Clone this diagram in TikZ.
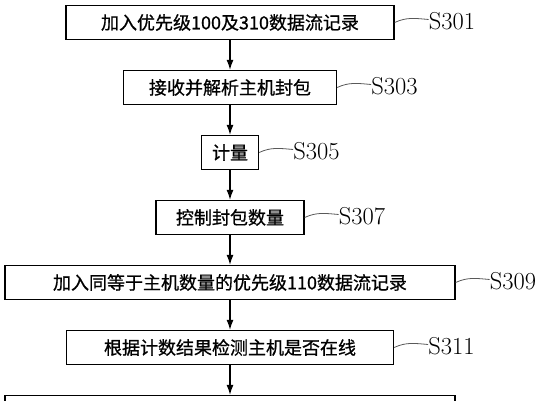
\documentclass[tikz,border=0pt]{standalone}
\usepackage{fontspec}
\newfontfamily\cjk[FakeBold=0.8]{Noto Sans CJK SC}
\usetikzlibrary{arrows.meta,positioning}

\begin{document}
\begin{tikzpicture}[x=1pt,y=1pt,
    stepbox/.style={draw,line width=1.3pt,minimum height=34pt,inner sep=0pt,
      font=\cjk\fontsize{18}{18}\selectfont},
    steplabel/.style={inner sep=0pt,anchor=west,font=\fontsize{24.5}{24.5}\selectfont},
    lead/.style={gray!70!black,line width=0.8pt},
    flow/.style={line width=1.2pt,-{Latex[length=10pt,width=7pt]}},
    node distance=29.7pt]
  \useasboundingbox (0,0) rectangle (544,-400);
  \clip (0,0) rectangle (544,-400);

  \node[stepbox,minimum width=328pt] (s301) at (230,-22.5) {加入优先级100及310数据流记录};
  \node[stepbox,minimum width=213pt,below=of s301] (s303) {接收并解析主机封包};
  \node[stepbox,minimum width=57pt,below=of s303] (s305) {计量};
  \node[stepbox,minimum width=148pt,below=of s305] (s307) {控制封包数量};
  \node[stepbox,minimum width=450pt,below=of s307] (s309) {加入同等于主机数量的优先级110数据流记录};
  \node[stepbox,minimum width=327pt,below=of s309] (s311) {根据计数结果检测主机是否在线};
  \node[stepbox,minimum width=450pt,below=of s311] (s313) {};

  % step numbers with their leaders
  \foreach \n in {301,303,305,307,309,311} {
    \node[steplabel] (l\n) at ([xshift=34pt,yshift=1pt]s\n.east) {S\n};
    \draw[lead] (s\n.east) to[out=25,in=175] ([yshift=2pt]l\n.west);
  }

  \foreach \a/\b in {301/303,303/305,305/307,307/309,309/311,311/313}
    \draw[flow] (s\a) -- (s\b);
\end{tikzpicture}
\end{document}
